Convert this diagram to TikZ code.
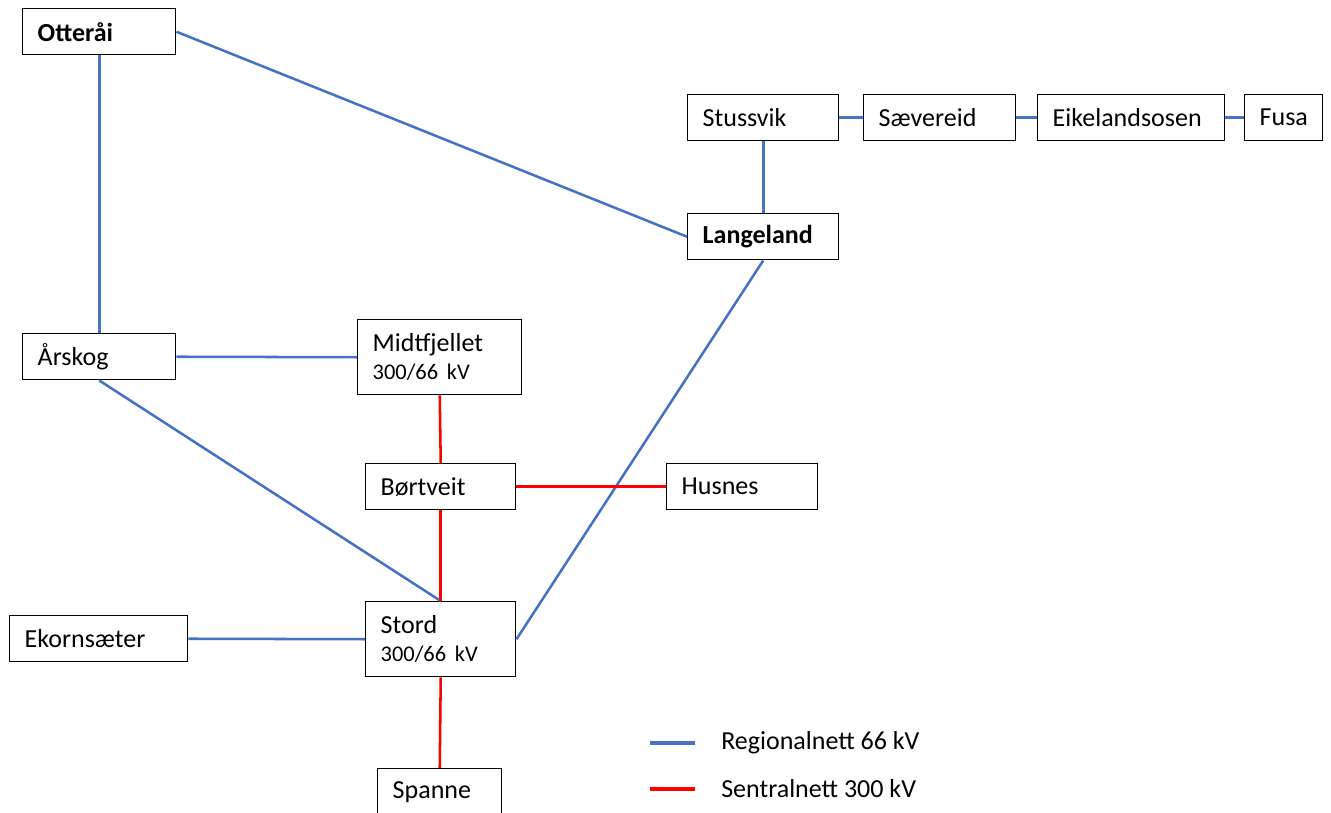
\documentclass[tikz,border=0pt]{standalone}
\usepackage{fontspec}
\setmainfont{Carlito}
\usepackage{xcolor}
\definecolor{cRegional}{HTML}{4472C4}
\definecolor{cSentral}{HTML}{FF0000}
\usepackage{tikz}
\usetikzlibrary{positioning}
\tikzset{
  node-box/.style={draw=black,line width=1.1pt,fill=white,anchor=north west,
    inner xsep=11.25pt,inner ysep=0pt,align=left,minimum height=34.5pt,
    font=\fontsize{19.5}{23}\selectfont},
  node-tall/.style={minimum height=56.25pt},
  node-main/.style={font=\fontsize{19.5}{23}\selectfont\bfseries},
  line-regional/.style={draw=cRegional,line width=1.9pt},
  line-sentral/.style={draw=cSentral,line width=1.9pt},
  legend-line/.style={line width=3pt},
  legend-text/.style={anchor=west,inner sep=0pt,font=\fontsize{19.5}{23}\selectfont},
}
\newcommand{\kvline}[1]{\\[-2pt]{\fontsize{16.8}{20}\selectfont #1}}

\begin{document}
\begin{tikzpicture}[x=0.75pt,y=-0.75pt]
  \useasboundingbox (0,0) rectangle (1331,813);
  \clip (0,0) rectangle (1331,813);
  % stasjoner
  \node[node-box,node-main,text width=92.25pt] (otterai) at (22,8) {Otteråi};
  \node[node-box,text width=90.75pt] (stussvik) at (687,94) {Stussvik};
  \node[node-box,text width=91.5pt] (saevereid) at (863,94) {Sævereid};
  \node[node-box,text width=117.75pt] (eikeland) at (1037,94) {Eikelandsosen};
  \node[node-box,text width=36pt] (fusa) at (1244,94) {Fusa};
  \node[node-box,node-main,text width=90.75pt] (langeland) at (687,213) {Langeland};
  \node[node-box,text width=92.25pt] (arskog) at (22,333) {Årskog};
  \node[node-box,node-tall,text width=100.5pt] (midtfjellet) at (357,319) {Midtfjellet\kvline{300/66 kV}};
  \node[node-box,text width=90pt] (bortveit) at (365,463) {Børtveit};
  \node[node-box,text width=90.75pt] (husnes) at (666,463) {Husnes};
  \node[node-box,text width=111pt] (ekornsaeter) at (9,615) {Ekornsæter};
  \node[node-box,node-tall,text width=90pt] (stord) at (365,601) {Stord\kvline{300/66 kV}};
  \node[node-box,text width=70.5pt] (spanne) at (377,768) {Spanne};
  % regionalnett 66 kV
  \draw[line-regional] (otterai.east) -- (langeland.west);
  \draw[line-regional] (otterai.south) -- (arskog.north);
  \draw[line-regional] (stussvik.south) -- (langeland.north);
  \draw[line-regional] (stussvik.east) -- (saevereid.west);
  \draw[line-regional] (saevereid.east) -- (eikeland.west);
  \draw[line-regional] (eikeland.east) -- (fusa.west);
  \draw[line-regional] (arskog.east) -- (midtfjellet.west);
  \draw[line-regional] (arskog.south) -- (stord.north);
  \draw[line-regional] (langeland.south) -- (stord.east);
  \draw[line-regional] (ekornsaeter.east) -- (stord.west);
  % sentralnett 300 kV
  \draw[line-sentral] (midtfjellet.south) -- (bortveit.north);
  \draw[line-sentral] (bortveit.east) -- (husnes.west);
  \draw[line-sentral] (bortveit.south) -- (stord.north);
  \draw[line-sentral] (stord.south) -- (spanne.north);
  % tegnforklaring
  \coordinate (regA) at (650,743);
  \coordinate (regB) at (695,743);
  \coordinate (senA) at (650,789);
  \coordinate (senB) at (695,789);
  \draw[line-regional,legend-line] (regA) -- (regB);
  \draw[line-sentral,legend-line] (senA) -- (senB);
  \node[legend-text] (regTxt) at (721,743) {Regionalnett 66 kV};
  \node[legend-text] (senTxt) at (721,789) {Sentralnett 300 kV};
\end{tikzpicture}
\end{document}
